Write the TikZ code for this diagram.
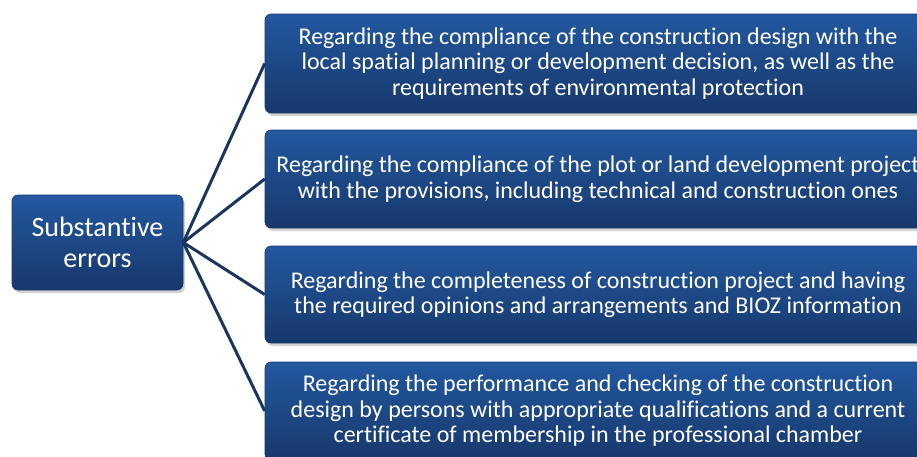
\documentclass[tikz,border=0pt]{standalone}
\usepackage{fontspec}
\setmainfont{Carlito}[Ligatures=NoCommon]
\usetikzlibrary{shadows}
\begin{document}
\begin{tikzpicture}[x=1pt,y=-1pt,
  bluebox/.style={rounded corners=6pt, top color=blue1, bottom color=blue2,
     draw=blue2, line width=0.6pt, text=white, align=center,
     drop shadow={shadow xshift=2pt, shadow yshift=-3pt, opacity=0.35}},
  conn/.style={draw=navy, line width=3pt}]
\definecolor{blue1}{HTML}{2358A0}
\definecolor{blue2}{HTML}{17386B}
\definecolor{navy}{HTML}{1C355E}
\useasboundingbox (0,0) rectangle (917,456);
\clip (0,0) rectangle (917,456);
\node[bluebox, minimum width=171pt, minimum height=95pt, font=\fontsize{28}{31}\selectfont] (L) at (97.5,242.5) {Substantive\\errors};
\begin{scope}[font=\fontsize{24}{25.5}\selectfont]
\node[bluebox, minimum width=666pt, minimum height=99pt] (B1) at (598,63.5) {Regarding the compliance of the construction design with the\\local spatial planning or development decision, as well as the\\requirements of environmental protection};
\node[bluebox, minimum width=666pt, minimum height=98pt] (B2) at (598,179) {Regarding the compliance of the plot or land development project\\with the provisions, including technical and construction ones};
\node[bluebox, minimum width=666pt, minimum height=97pt] (B3) at (598,294.5) {Regarding the completeness of construction project and having\\the required opinions and arrangements and BIOZ information};
\node[bluebox, minimum width=666pt, minimum height=98pt] (B4) at (598,411) {Regarding the performance and checking of the construction\\design by persons with appropriate qualifications and a current\\certificate of membership in the professional chamber};
\end{scope}
\foreach \b in {B1,B2,B3,B4} {\draw[conn] (L.east) -- (\b.west);}
\end{tikzpicture}
\end{document}
